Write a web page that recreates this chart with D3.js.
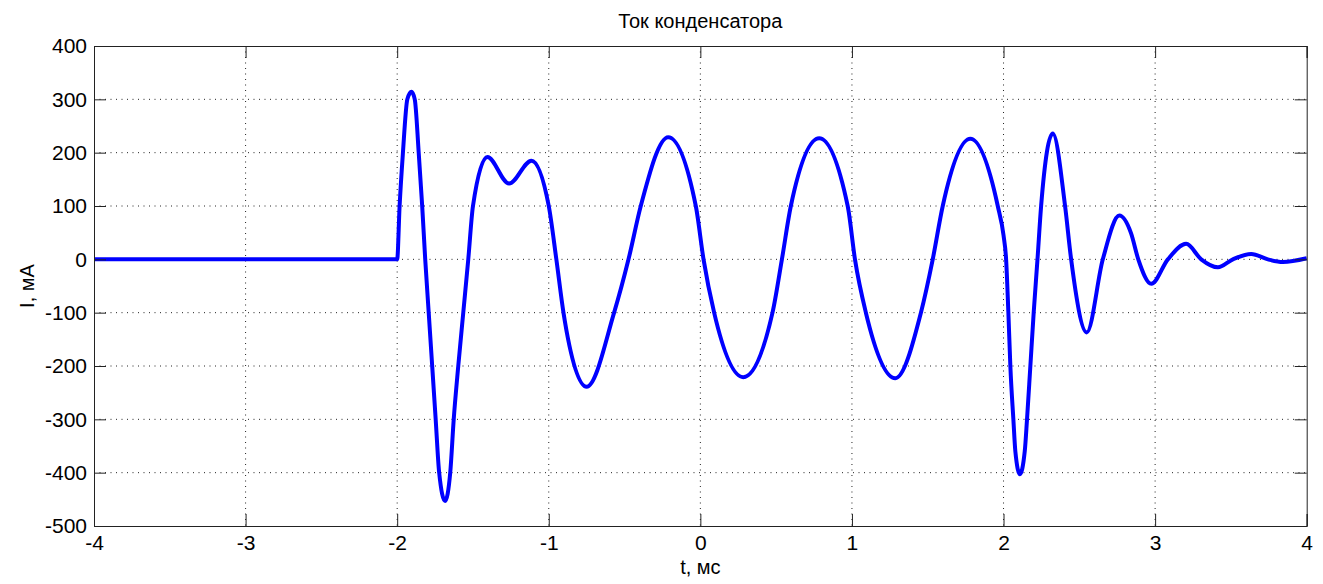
<!DOCTYPE html>
<html>
<head>
<meta charset="utf-8">
<script src="https://cdn.jsdelivr.net/npm/d3@7"></script>
<style>
  body { margin: 0; background: #fff; }
  text { font-family: "Liberation Sans", Arial, sans-serif; fill: #000; }
</style>
</head>
<body>
<div id="chart"></div>
<script>
// time, ms
const tVals = [-4, -2.0, -1.984, -1.962, -1.933, -1.906, -1.884, -1.858, -1.835, -1.815,
  -1.792, -1.769, -1.746, -1.723, -1.684, -1.650, -1.627, -1.597, -1.564, -1.531,
  -1.500, -1.405, -1.262, -1.114, -1.0, -0.95, -0.903,
  -0.75, -0.569, -0.474, -0.393, -0.212, -0.03,
  0.021, 0.091, 0.283, 0.476, 0.538, 0.597, 0.784,
  0.972, 1.02, 1.092, 1.286, 1.455, 1.533, 1.599,
  1.781, 1.962, 2.0, 2.017, 2.032, 2.045, 2.065, 2.078,
  2.108, 2.140, 2.155, 2.177, 2.199, 2.224, 2.248, 2.325,
  2.406, 2.446, 2.549, 2.655, 2.764, 2.841, 2.889, 2.975,
  3.084, 3.205, 3.304, 3.414, 3.513, 3.634, 3.744, 3.843, 4.0];
// current, mA
const iVals = [0, 0, 100, 200, 300, 314, 300, 200, 100, 0,
  -100, -200, -300, -400, -453, -400, -300, -200, -100, 0,
  100, 192, 142, 185, 100, 0, -100,
  -239, -100, 0, 100, 229, 100,
  0, -100, -221, -100, 0, 100, 227,
  100, 0, -100, -223, -100, 0, 100,
  226, 100, 45, 0, -100, -200, -300, -360,
  -403, -360, -300, -200, -100, 0, 100, 236,
  100, 0, -137, 0, 82, 49, 0, -46,
  0, 29, 0, -15, 0, 10, 0, -5, 2];

const xTicks = [-4, -3, -2, -1, 0, 1, 2, 3, 4];
const yTicks = [-500, -400, -300, -200, -100, 0, 100, 200, 300, 400];

const margin = {top: 46, right: 16.3, bottom: 58, left: 94},
    width = 1323 - margin.left - margin.right,
    height = 584 - margin.top - margin.bottom;

const svg = d3.select("#chart")
    .append("svg")
    .attr("width", 1323)
    .attr("height", 584)
    .append("g")
    .attr("transform", "translate(" + margin.left + "," + margin.top + ")");

const x = d3.scaleLinear().domain([-4, 4]).range([0, width]);
const y = d3.scaleLinear().domain([-500, 400]).range([height, 0]);

// dotted grid
svg.append("g")
    .selectAll("line")
    .data(xTicks.slice(1, -1))
    .enter()
    .append("line")
    .attr("x1", d => x(d)).attr("x2", d => x(d))
    .attr("y1", 0).attr("y2", height)
    .attr("stroke", "#222")
    .attr("stroke-dasharray", "1,4.5");
svg.append("g")
    .selectAll("line")
    .data(yTicks.slice(1, -1))
    .enter()
    .append("line")
    .attr("x1", 0).attr("x2", width)
    .attr("y1", d => y(d)).attr("y2", d => y(d))
    .attr("stroke", "#222")
    .attr("stroke-dasharray", "1,4.5");

// data line
const line = d3.line()
    .x((d, i) => x(tVals[i]))
    .y((d, i) => y(iVals[i]))
    .curve(d3.curveMonotoneX);
svg.append("path")
    .datum(tVals)
    .attr("d", line)
    .attr("fill", "none")
    .attr("stroke", "#0000ff")
    .attr("stroke-width", 4)
    .attr("stroke-linejoin", "round");

// axes, ticks pointing inward
const tick = 12;
const xAxis = svg.append("g")
    .attr("transform", "translate(0," + height + ")")
    .call(d3.axisBottom(x).tickValues(xTicks).tickSize(-tick).tickPadding(8).tickFormat(d3.format("d")));
const yAxis = svg.append("g")
    .call(d3.axisLeft(y).tickValues(yTicks).tickSize(-tick).tickPadding(7).tickFormat(d3.format("d")));
const xTop = svg.append("g")
    .call(d3.axisTop(x).tickValues(xTicks).tickSize(-tick).tickFormat(""));
const yRight = svg.append("g")
    .attr("transform", "translate(" + width + ",0)")
    .call(d3.axisRight(y).tickValues(yTicks).tickSize(-tick).tickFormat(""));

[xAxis, yAxis, xTop, yRight].forEach(g => {
    g.selectAll("path.domain").attr("stroke", "#222");
    g.selectAll(".tick line").attr("stroke", "#222");
    g.selectAll("text")
        .style("font-family", "'Liberation Sans', Arial, sans-serif")
        .style("font-size", "21px")
        .attr("fill", "#000");
});
yAxis.selectAll("text").text(d => d < 0 ? "-" + Math.abs(d) : d);
xAxis.selectAll("text").text(d => d < 0 ? "-" + Math.abs(d) : d).attr("dy", "0.75em");

// title and labels
svg.append("text")
    .attr("x", width / 2)
    .attr("y", -18)
    .attr("text-anchor", "middle")
    .style("font-size", "20px")
    .text("Ток конденсатора");

svg.append("text")
    .attr("x", width / 2)
    .attr("y", height + 48)
    .attr("text-anchor", "middle")
    .style("font-size", "20px")
    .text("t, мс");

svg.append("text")
    .attr("transform", "translate(-60," + (height / 2) + ") rotate(-90)")
    .attr("text-anchor", "middle")
    .style("font-size", "20px")
    .text("I, мА");
</script>
</body>
</html>
